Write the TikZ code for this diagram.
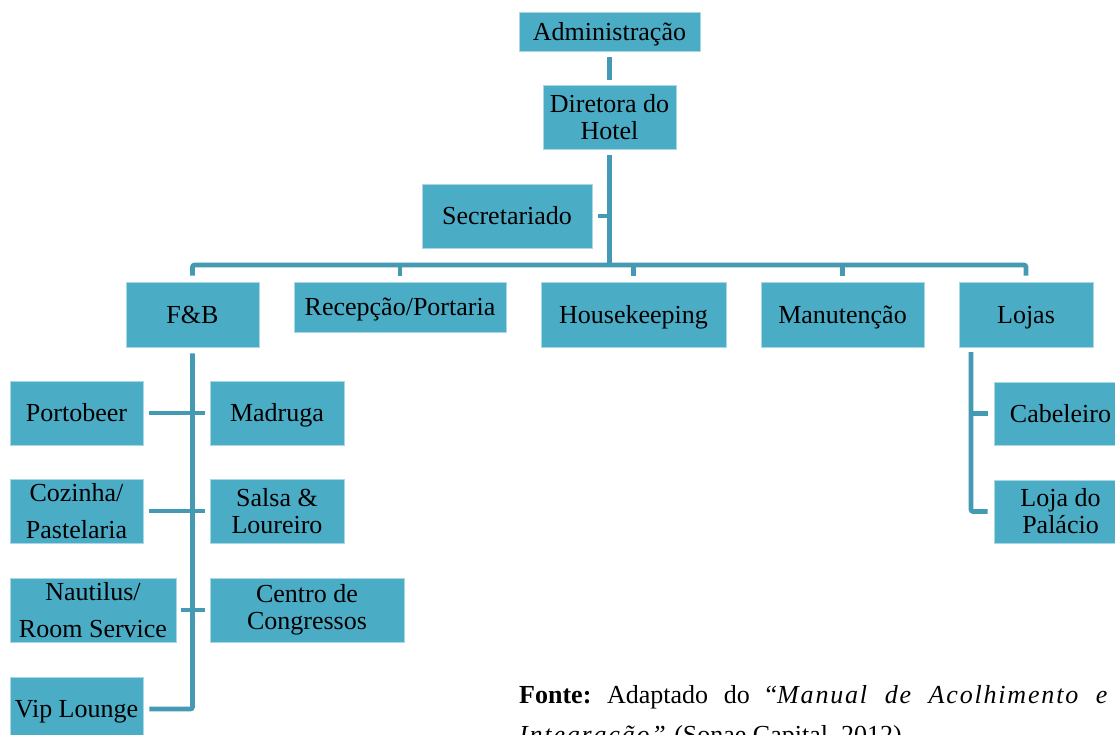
\documentclass[tikz,border=0pt]{standalone}
\usepackage{fontspec}
\setmainfont{Liberation Serif}
\newfontfamily\trackfont[LetterSpace=7]{Liberation Serif}
\definecolor{boxfill}{HTML}{4BACC6}
\definecolor{boxedge}{HTML}{A8D8E6}
\definecolor{linecol}{HTML}{4499B3}
\tikzset{
  box/.style={rectangle, fill=boxfill, draw=boxedge, line width=0.8pt, inner sep=0pt,
    align=center, text=black, font=\fontsize{26}{27}\selectfont},
  one/.style={text height=20pt, text depth=2.8pt},
  conn/.style={draw=linecol, line width=4.6pt, rounded corners=2pt},
  foot/.style={anchor=base west, inner sep=0pt, text=black, font=\fontsize{26}{27}\selectfont}
}
\begin{document}
\begin{tikzpicture}[x=1pt,y=-1pt]
\useasboundingbox (0,0) rectangle (1115,735);
\clip (0,0) rectangle (1115,735);

% top
\node[box, one, minimum width=181pt, minimum height=39pt] (adm) at (609.5,31.5) {Administração};
\node[box, minimum width=133pt, minimum height=64pt] (dir) at (609.5,117) {Diretora do\\Hotel};
\node[box, one, minimum width=170pt, minimum height=64pt] (sec) at (507,216) {Secretariado};

% departments
\node[box, one, minimum width=133pt, minimum height=65pt] (fb)  at (192.5,314.5) {F\&B};
\node[box, one, minimum width=212pt, minimum height=50pt] (rec) at (400,307) {Recepção/Portaria};
\node[box, one, minimum width=185pt, minimum height=65pt] (hk)  at (633.5,314.5) {Housekeeping};
\node[box, one, minimum width=163pt, minimum height=65pt] (man) at (842.5,314.5) {Manutenção};
\node[box, one, minimum width=134pt, minimum height=65pt] (loj) at (1026,314.5) {Lojas};

% F&B children
\node[box, one, minimum width=133pt, minimum height=64pt] (port) at (76.5,413) {Portobeer};
\node[box, one, minimum width=134pt, minimum height=64pt] (mad)  at (277,413) {Madruga};
\node[box, minimum width=133pt, minimum height=64pt] (coz)  at (76.5,511) {Cozinha/\\[10pt]Pastelaria};
\node[box, minimum width=134pt, minimum height=64pt] (sal)  at (277,511) {Salsa \&\\Loureiro};
\node[box, minimum width=166pt, minimum height=64pt] (nau)  at (93,610) {Nautilus/\\[10pt]Room Service};
\node[box, minimum width=194pt, minimum height=64pt] (cen)  at (307,610) {Centro de\\Congressos};
\node[box, one, minimum width=133pt, minimum height=64pt] (vip)  at (76.5,709) {Vip Lounge};

% Lojas children
\node[box, one, minimum width=133pt, minimum height=63pt] (cab) at (1060.5,413.5) {Cabeleiro};
\node[box, minimum width=133pt, minimum height=63pt] (lpa) at (1060.5,511.5) {Loja do\\Palácio};

% connectors
\coordinate (busy) at (0,265);
\draw[conn] ([yshift=-6pt]adm.south) -- ([yshift=5pt]dir.north);
\draw[conn] ([yshift=-6pt]dir.south) -- (dir.south |- busy);
\draw[conn] ([xshift=6pt]sec.east) -- (sec.east -| dir.south);
\draw[conn] ([yshift=6pt]fb.north) -- (fb.north |- busy) -- (loj.north |- busy) -- ([yshift=6pt]loj.north);
\draw[conn] (rec.north |- busy) -- ([yshift=6pt]rec.north);
\draw[conn] (hk.north |- busy) -- ([yshift=6pt]hk.north);
\draw[conn] (man.north |- busy) -- ([yshift=6pt]man.north);

\draw[conn] ([yshift=-6pt]fb.south) |- ([xshift=6pt]vip.east);
\draw[conn] ([xshift=6pt]port.east) -- (port.east -| fb.south);
\draw[conn] (mad.west -| fb.south) -- ([xshift=-5pt]mad.west);
\draw[conn] ([xshift=6pt]coz.east) -- (coz.east -| fb.south);
\draw[conn] (sal.west -| fb.south) -- ([xshift=-5pt]sal.west);
\draw[conn] ([xshift=5pt]nau.east) -- (nau.east -| fb.south);
\draw[conn] (cen.west -| fb.south) -- ([xshift=-5pt]cen.west);

\coordinate (lojsp) at (971,352);
\draw[conn] (lojsp) |- ([xshift=-6pt]lpa.west);
\draw[conn] (cab.west -| lojsp) -- ([xshift=-6pt]cab.west);

% source note
\node[foot] (fonte1) at (519,703) {\hbox to 590pt{\textbf{Fonte:}\hfil Adaptado\hfil do\hfil {\trackfont“\textit{Manual}}\hfil {\trackfont\textit{de}}\hfil {\trackfont\textit{Acolhimento}}\hfil {\trackfont\textit{e}}}};
\node[foot] (fonte2) at (519,743) {{\trackfont\textit{Integração”}} (Sonae Capital, 2012)};
\end{tikzpicture}
\end{document}
